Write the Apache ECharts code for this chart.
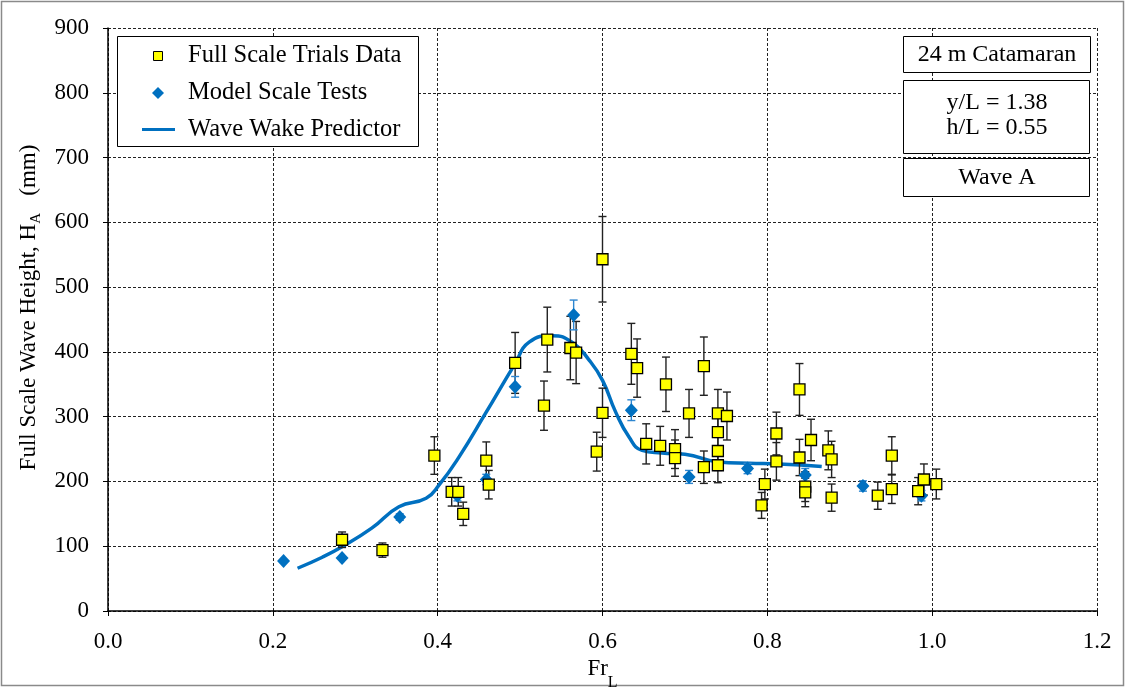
<!DOCTYPE html>
<html><head><meta charset="utf-8">
<script src="https://cdn.jsdelivr.net/npm/echarts@6/dist/echarts.min.js"></script>
<style>html,body{margin:0;padding:0;background:#fff}#c{width:1126px;height:688px}</style>
</head><body><div id="c"></div>
<script>
// Full scale trials data
const fsX   = [0.284,0.333,0.396,0.417,0.425,0.431,0.459,0.462,0.494,0.529,0.533,0.561,0.568,0.593,0.600,0.600,0.635,0.642,0.653,0.670,0.677,0.688,0.688,0.705,0.723,0.723,0.740,0.740,0.740,0.740,0.751,0.793,0.797,0.811,0.811,0.839,0.839,0.846,0.846,0.853,0.874,0.878,0.878,0.934,0.951,0.951,0.983,0.990,1.005];
const fsY   = [110,94,240,184,184,150,232,195,383,317,419,406,399,246,543,306,397,375,258,255,350,250,236,305,378,222,305,276,247,225,301,163,196,274,231,342,237,192,183,264,248,234,175,178,240,188,185,203,196];
const fsErr = [12,11,29,22,22,18,29,22,47,38,50,49,48,30,66,38,47,45,31,30,42,30,28,37,45,25,37,33,30,27,37,20,23,33,29,40,28,23,22,32,30,28,21,21,29,22,21,24,23];
// Model scale tests
const msX   = [0.213,0.284,0.354,0.424,0.459,0.494,0.565,0.635,0.705,0.776,0.846,0.916,0.987];
const msY   = [77,82,145,178,203,346,457,310,207,220,210,193,178];
const msErr = [0,0,5,8,8,16,23,16,10,8,10,8,8];
// Wave wake predictor
const wpX = [0.230,0.260,0.285,0.320,0.353,0.386,0.402,0.426,0.458,0.494,0.511,0.539,0.563,0.584,0.600,0.616,0.632,0.648,0.672,0.700,0.741,0.778,0.814,0.866];
const wpY = [66,83,100,128,161,174,195,238,305,382,415,425,415,387,356,307,269,248,244,242,230,228,227,223];
// Axis ticks
const xTickLabels = ['0.0','0.2','0.4','0.6','0.8','1.0','1.2'];
const yTicks = [0,100,200,300,400,500,600,700,800,900];
const legendNames = ['Full Scale Trials Data','Model Scale Tests','Wave Wake Predictor'];
const infoTexts = ['24 m Catamaran','y/L = 1.38','h/L = 0.55','Wave A'];

const FONT = 'Liberation Serif';
const BLUE = '#0070C0';

function errRender(color){
  return function(params, api){
    const x = api.value(0), lo = api.value(1), hi = api.value(2);
    if (hi - lo <= 0) return null;
    const a = api.coord([x, lo]), b = api.coord([x, hi]);
    const w = 4;
    const st = {stroke: color, lineWidth: 1.4};
    return {type:'group', children:[
      {type:'line', shape:{x1:a[0],y1:a[1],x2:b[0],y2:b[1]}, style:st},
      {type:'line', shape:{x1:a[0]-w,y1:a[1],x2:a[0]+w,y2:a[1]}, style:st},
      {type:'line', shape:{x1:b[0]-w,y1:b[1],x2:b[0]+w,y2:b[1]}, style:st}
    ]};
  };
}

const chart = echarts.init(document.getElementById('c'), null, {renderer:'canvas'});
const gridLine = {show:true, lineStyle:{color:'#222', width:1, type:[3,2]}};
const option = {
  animation:false,
  backgroundColor:'#fff',
  textStyle:{fontFamily:FONT},
  grid:{left:108, right:29, top:28, bottom:77, containLabel:false, outerBoundsMode:'none'},
  xAxis:{
    type:'value', min:0, max:1.2, interval:0.2,
    axisLine:{show:true, onZero:false, lineStyle:{color:'#000', width:1.5}},
    axisTick:{show:true, inside:false, length:5, lineStyle:{color:'#000'}},
    axisLabel:{fontFamily:FONT, fontSize:23, color:'#000', margin:19,
      formatter:(v)=>xTickLabels[Math.round(v/0.2)]},
    splitLine:gridLine,
    name:'{m|Fr}{sub|L}', nameLocation:'middle', nameGap:28,
    nameTextStyle:{fontFamily:FONT, fontSize:23, color:'#000',
      rich:{
        m:{fontFamily:FONT, fontSize:23, color:'#000'},
        sub:{fontFamily:FONT, fontSize:16, color:'#000', verticalAlign:'bottom', lineHeight:43}}}
  },
  yAxis:{
    type:'value', min:0, max:900, interval:100,
    axisLine:{show:true, lineStyle:{color:'#000', width:1.5}},
    axisTick:{show:true, inside:false, length:5, lineStyle:{color:'#000'}},
    axisLabel:{fontFamily:FONT, fontSize:23, color:'#000', margin:19,
      formatter:(v)=>String(yTicks[Math.round(v/100)])},
    splitLine:gridLine,
    name:'{m|Full Scale Wave Height, H}{sub|A}{m|   (mm)}', nameLocation:'middle', nameGap:64,
    nameTextStyle:{fontFamily:FONT, fontSize:23, color:'#000', padding:[0,0,0,24],
      rich:{
        m:{fontFamily:FONT, fontSize:23, color:'#000'},
        sub:{fontFamily:FONT, fontSize:15, color:'#000', lineHeight:29, verticalAlign:'bottom'}
      }}
  },
  series:[
    {name:legendNames[2], type:'line', data:wpX.map((x,i)=>[x,wpY[i]]), smooth:0.5, showSymbol:false,
      lineStyle:{color:BLUE, width:3.5}, z:2},
    {type:'custom', renderItem:errRender('#222'), data:fsX.map((x,i)=>[x,fsY[i]-fsErr[i],fsY[i]+fsErr[i]]), z:3, silent:true},
    {type:'custom', renderItem:errRender('#2E86D0'), data:msX.map((x,i)=>[x,msY[i]-msErr[i],msY[i]+msErr[i]]), z:3, silent:true},
    {name:legendNames[1], type:'scatter', symbol:'diamond', symbolSize:[13,14], data:msX.map((x,i)=>[x,msY[i]]),
      itemStyle:{color:BLUE, opacity:1}, z:4},
    {name:legendNames[0], type:'scatter', symbol:'rect', symbolSize:11, data:fsX.map((x,i)=>[x,fsY[i]]),
      itemStyle:{color:'#FFFF00', borderColor:'#000', borderWidth:1.3, opacity:1}, z:5}
  ],
  graphic:[
    {type:'rect', shape:{x:1.5,y:1.5,width:1122,height:684}, style:{fill:null, stroke:'#8a8a8a', lineWidth:1.5}, z:0, silent:true},
    // legend box
    {type:'rect', shape:{x:117.5,y:36.5,width:301,height:110}, style:{fill:'#fff', stroke:'#000', lineWidth:1}, z:10},
    {type:'rect', shape:{x:153.5,y:51.5,width:9,height:9}, style:{fill:'#FFFF00', stroke:'#000', lineWidth:1}, z:11},
    {type:'polygon', shape:{points:[[158,87],[164,93],[158,99],[152,93]]}, style:{fill:BLUE}, z:11},
    {type:'line', shape:{x1:142,y1:129.5,x2:175,y2:129.5}, style:{stroke:BLUE, lineWidth:3}, z:11},
    {type:'text', x:188, y:56, style:{text:legendNames[0], font:'24.5px '+FONT, fill:'#000', textVerticalAlign:'middle'}, z:11},
    {type:'text', x:188, y:93, style:{text:legendNames[1], font:'24.5px '+FONT, fill:'#000', textVerticalAlign:'middle'}, z:11},
    {type:'text', x:188, y:130, style:{text:legendNames[2], font:'24.5px '+FONT, fill:'#000', textVerticalAlign:'middle'}, z:11},
    // info boxes
    {type:'rect', shape:{x:903.5,y:36.5,width:187,height:36}, style:{fill:'#fff', stroke:'#000', lineWidth:1}, z:10},
    {type:'text', x:997, y:55, style:{text:infoTexts[0], font:'24px '+FONT, fill:'#000', textAlign:'center', textVerticalAlign:'middle'}, z:11},
    {type:'rect', shape:{x:903.5,y:80.5,width:186,height:73}, style:{fill:'#fff', stroke:'#000', lineWidth:1}, z:10},
    {type:'text', x:997, y:103, style:{text:infoTexts[1], font:'24px '+FONT, fill:'#000', textAlign:'center', textVerticalAlign:'middle'}, z:11},
    {type:'text', x:997, y:128, style:{text:infoTexts[2], font:'24px '+FONT, fill:'#000', textAlign:'center', textVerticalAlign:'middle'}, z:11},
    {type:'rect', shape:{x:903.5,y:158.5,width:186,height:38}, style:{fill:'#fff', stroke:'#000', lineWidth:1}, z:10},
    {type:'text', x:997, y:178, style:{text:infoTexts[3], font:'24px '+FONT, fill:'#000', textAlign:'center', textVerticalAlign:'middle'}, z:11}
  ]
};
chart.setOption(option);
</script></body></html>
